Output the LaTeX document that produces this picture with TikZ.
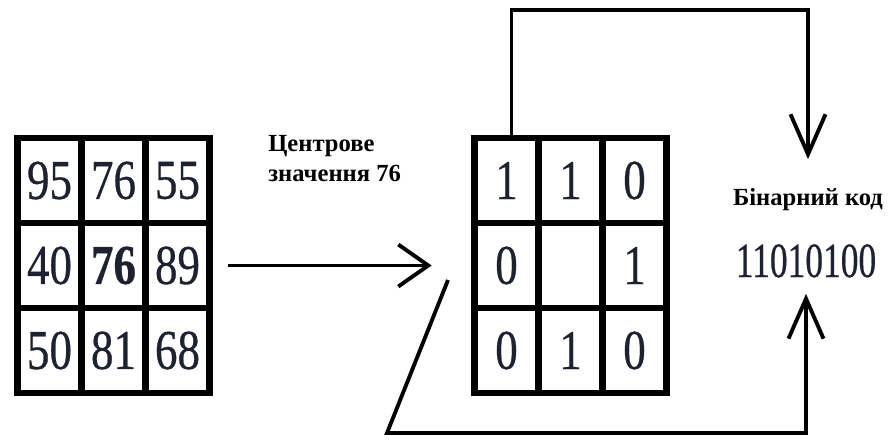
\documentclass[tikz,border=0pt]{standalone}
\usepackage{fontspec}
\setmainfont{Liberation Serif}
\newfontfamily\digitfont{Liberation Serif}[FakeBold=0.6]
\usepackage{graphicx}
\usetikzlibrary{arrows.meta,positioning}

\definecolor{numink}{RGB}{30,33,48}

% narrow digits inside the cells
\newcommand{\cellval}[1]{\scalebox{0.8}[1]{#1}}

\begin{document}
\begin{tikzpicture}[
		cell/.style={draw, line width=3.8pt, minimum width=\w cm, minimum height=\h cm,
			inner sep=0pt, font=\digitfont\fontsize{32}{32}\selectfont, text=numink},
		caption/.style={font=\fontsize{14}{17}\selectfont\bfseries, inner sep=0pt, align=left},
		link/.style={line width=2.2pt},
		hbarb/.style={link, -{Straight Barb[length=6mm, width=8.4mm]}},
		vbarb/.style={link, -{Straight Barb[length=8mm, width=7mm]}}]
	
	\useasboundingbox (0,0) rectangle (17.76,8.82);
	
	% geometry
	\def\w{1.28}
	\def\h{1.70}
	\def\gap{9.14}
	
	% neighbourhood of pixels
	\begin{scope}[shift={(0.35,0.96)}]
		\foreach \v [count=\k from 0] in {95,76,55,40,\textbf{76},89,50,81,68} {
			\pgfmathtruncatemacro{\ri}{div(\k,3)+1}
			\pgfmathtruncatemacro{\ci}{mod(\k,3)+1}
			\node[cell] (l\ri\ci) at ({(\ci-0.5)*\w},{(3.5-\ri)*\h}) {\cellval{\v}};
		}
		
		% thresholded neighbours
		\foreach \v [count=\k from 0] in {1,1,0,0,{},1,0,1,0} {
			\pgfmathtruncatemacro{\ri}{div(\k,3)+1}
			\pgfmathtruncatemacro{\ci}{mod(\k,3)+1}
			\node[cell] (m\ri\ci) at ({\gap+(\ci-0.5)*\w},{(3.5-\ri)*\h}) {\cellval{\v}};
		}
	\end{scope}
	
	% labels
	\node[caption, anchor=north west] (centre) at (5.36,6.12) {Центрове\\значення 76};
	\node[caption, anchor=base] (title) at (16.16,4.72) {Бінарний код};
	\node[font=\digitfont\fontsize{28}{28}\selectfont, text=numink, inner sep=0pt, anchor=base] (code)
		at (16.12,3.28) {\scalebox{0.72}[1]{11010100}};
	
	% arrows
	\draw[hbarb] ([xshift=3mm]l23.east) -- ([xshift=-7.9mm]m21.west);
	\draw[vbarb] ([xshift=1mm]m11.north) -- ++(0,2.5) -| ([yshift=5.7mm]title.north);
	\coordinate (tail) at (8.96,3.22);
	\draw[vbarb] (tail) -- (7.74,0.16) -| ([yshift=-3.2mm]code.south);
	
\end{tikzpicture}
\end{document}
